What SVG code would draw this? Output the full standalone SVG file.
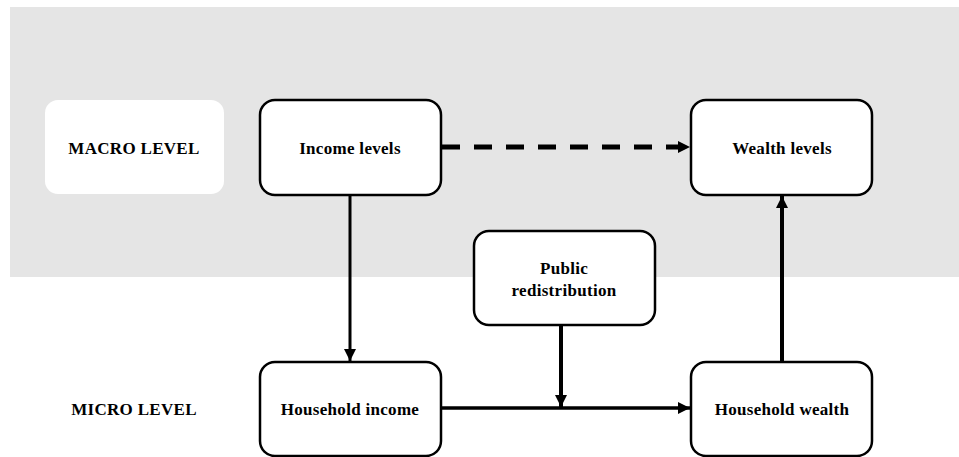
<svg xmlns="http://www.w3.org/2000/svg" width="959" height="457" viewBox="0 0 959 457">
<style>
.node{fill:#fff;stroke:#000;stroke-width:2.5}
.t{font-family:"Liberation Serif","Times New Roman",serif;font-weight:bold;font-size:17px;letter-spacing:0.3px;fill:#000;text-anchor:middle;dominant-baseline:central}
.c{fill:none;stroke:#000}
</style>
<defs>
<marker id="ah" viewBox="0 0 10 10" refX="10" refY="5" markerWidth="12" markerHeight="12" markerUnits="userSpaceOnUse" orient="auto">
<path d="M0,0 L10,5 L0,10 Z" fill="#000"/>
</marker>
</defs>
<rect x="0" y="0" width="959" height="457" fill="#fff"/>
<rect x="10" y="7" width="949" height="270" fill="#e5e5e5"/>
<g id="macro-level">
<rect x="45" y="100" width="179" height="94" rx="13" fill="#fff"/>
<text class="t" x="134" y="148">MACRO LEVEL</text>
</g>
<g id="micro-level">
<text class="t" x="134" y="409">MICRO LEVEL</text>
</g>
<g id="income-levels">
<rect class="node" x="260" y="100" width="181" height="95" rx="15"/>
<text class="t" x="350" y="148">Income levels</text>
</g>
<g id="wealth-levels">
<rect class="node" x="691" y="100" width="181" height="95" rx="15"/>
<text class="t" x="782" y="148">Wealth levels</text>
</g>
<g id="public-redistribution">
<rect class="node" x="474" y="231" width="181" height="94" rx="15"/>
<text class="t" x="564" y="268">Public</text>
<text class="t" x="564" y="290">redistribution</text>
</g>
<g id="household-income">
<rect class="node" x="260" y="362" width="181" height="94" rx="15"/>
<text class="t" x="350" y="409">Household income</text>
</g>
<g id="household-wealth">
<rect class="node" x="691" y="362" width="181" height="94" rx="15"/>
<text class="t" x="782" y="409">Household wealth</text>
</g>
<g id="connectors">
<line class="c" x1="442" y1="147" x2="690" y2="147" stroke-width="5" stroke-dasharray="18,14" marker-end="url(#ah)"/>
<line class="c" x1="350" y1="196" x2="350" y2="361" stroke-width="3" marker-end="url(#ah)"/>
<line class="c" x1="442" y1="408" x2="690" y2="408" stroke-width="3.5" marker-end="url(#ah)"/>
<line class="c" x1="561" y1="326" x2="561" y2="407" stroke-width="4" marker-end="url(#ah)"/>
<line class="c" x1="782" y1="361" x2="782" y2="196" stroke-width="4" marker-end="url(#ah)"/>
</g>
</svg>
